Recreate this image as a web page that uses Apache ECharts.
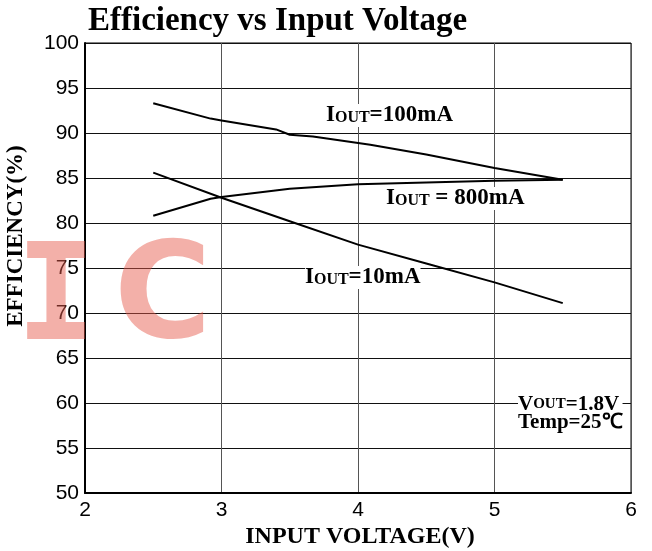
<!DOCTYPE html>
<html>
<head>
<meta charset="utf-8">
<script src="https://cdn.jsdelivr.net/npm/echarts@6/dist/echarts.min.js"></script>
<style>
  body { margin: 0; background: #fff; }
  #chart { width: 652px; height: 551px; }
</style>
</head>
<body>
<div id="chart"></div>
<script>
// values
var vin10 = [2.5, 3, 3.5, 4, 4.5, 5, 5.5];
var eff10 = [85.6, 82.8, 80.2, 77.6, 75.5, 73.4, 71.1];

var vin100 = [2.5, 2.92, 3, 3.4, 3.5, 3.67, 4.09, 4.5, 5, 5.5];
var eff100 = [93.3, 91.6, 91.4, 90.4, 89.8, 89.6, 88.7, 87.6, 86.1, 84.8];

var vin800 = [2.5, 2.92, 3, 3.5, 4, 4.5, 5, 5.5];
var eff800 = [80.8, 82.7, 82.9, 83.8, 84.3, 84.5, 84.7, 84.8];

var xTicks = [2, 3, 4, 5, 6];
var yTicks = [50, 55, 60, 65, 70, 75, 80, 85, 90, 95, 100];

function pairs(xs, ys) {
  var out = [];
  for (let i = 0; i < xs.length; i++) {
    out.push([xs[i], ys[i]]);
  }
  return out;
}

var serif = '"Liberation Serif", "Times New Roman", serif';
var sans = '"Liberation Sans", Arial, sans-serif';
var wm = 'rgba(230,90,75,0.48)';

function ioutLabel(val, left, top) {
  return {
    type: 'text',
    left: left,
    top: top,
    z: 10,
    style: {
      text: '{a|I}{b|OUT}{a|' + val + '}',
      rich: {
        a: { fontFamily: serif, fontWeight: 'bold', fontSize: 23, fill: '#000' },
        b: { fontFamily: serif, fontWeight: 'bold', fontSize: 16, fill: '#000', verticalAlign: 'bottom', padding: [0, 0, 1, 0] }
      },
      backgroundColor: '#fff'
    }
  };
}

var chart = echarts.init(document.getElementById('chart'));

chart.setOption({
  animation: false,
  backgroundColor: '#fff',
  title: {
    text: 'Efficiency vs Input Voltage',
    left: 83,
    top: 0,
    textStyle: { fontFamily: serif, fontWeight: 'bold', fontSize: 33, color: '#000' }
  },
  grid: {
    left: 85, right: 21, top: 43, bottom: 58,
    outerBoundsMode: 'none',
    containLabel: false,
    show: true, borderColor: '#000', borderWidth: 1
  },
  xAxis: {
    type: 'value',
    min: xTicks[0], max: xTicks[xTicks.length - 1], interval: 1,
    axisLine: { show: true, lineStyle: { color: '#000', width: 2 } },
    axisTick: { show: false },
    axisLabel: { fontFamily: sans, fontSize: 21, color: '#000', margin: 7 },
    splitLine: { show: true, lineStyle: { color: '#555', width: 1 } }
  },
  yAxis: {
    type: 'value',
    min: yTicks[0], max: yTicks[yTicks.length - 1], interval: 5,
    axisLine: { show: true, lineStyle: { color: '#000', width: 2 } },
    axisTick: { show: false },
    axisLabel: { fontFamily: sans, fontSize: 21, color: '#000', margin: 6 },
    splitLine: { show: true, lineStyle: { color: '#111', width: 1 } }
  },
  graphic: [
    {
      type: 'text', x: 16, y: 236, rotation: Math.PI / 2, z: 10,
      style: {
        text: 'EFFICIENCY(%)', align: 'center', verticalAlign: 'middle',
        fontFamily: serif, fontWeight: 'bold', fontSize: 23, fill: '#000'
      }
    },
    {
      type: 'text', x: 360, y: 537, z: 10,
      style: {
        text: 'INPUT VOLTAGE(V)', align: 'center', verticalAlign: 'middle',
        fontFamily: serif, fontWeight: 'bold', fontSize: 24, fill: '#000'
      }
    },
    // watermark
    {
      type: 'text', left: 16, top: 238, z: 20, silent: true,
      style: { text: 'I', fontFamily: '"DejaVu Sans Mono", monospace', fontWeight: 'bold', fontSize: 133, fill: wm }
    },
    {
      type: 'text', left: 114, top: 236, z: 20, silent: true,
      style: { text: 'C', fontFamily: '"DejaVu Sans", sans-serif', fontWeight: 'bold', fontSize: 133, fill: wm }
    },
    ioutLabel('=100mA', 326, 104),
    ioutLabel(' = 800mA', 386, 187),
    ioutLabel('=10mA', 305, 266),
    {
      type: 'text', left: 518, top: 394, z: 10,
      style: {
        text: '{a|V}{b|OUT}{a|=1.8V}\n{a|Temp=25℃}',
        backgroundColor: '#fff',
        rich: {
          a: { fontFamily: serif, fontWeight: 'bold', fontSize: 21, fill: '#000', lineHeight: 18 },
          b: { fontFamily: serif, fontWeight: 'bold', fontSize: 15, fill: '#000', lineHeight: 18 }
        }
      }
    }
  ],
  series: [
    {
      name: '10mA', type: 'line', data: pairs(vin10, eff10),
      showSymbol: false, lineStyle: { color: '#000', width: 2 }
    },
    {
      name: '100mA', type: 'line', data: pairs(vin100, eff100),
      showSymbol: false, lineStyle: { color: '#000', width: 2 }
    },
    {
      name: '800mA', type: 'line', data: pairs(vin800, eff800),
      showSymbol: false, lineStyle: { color: '#000', width: 2 }
    }
  ]
});
</script>
</body>
</html>
